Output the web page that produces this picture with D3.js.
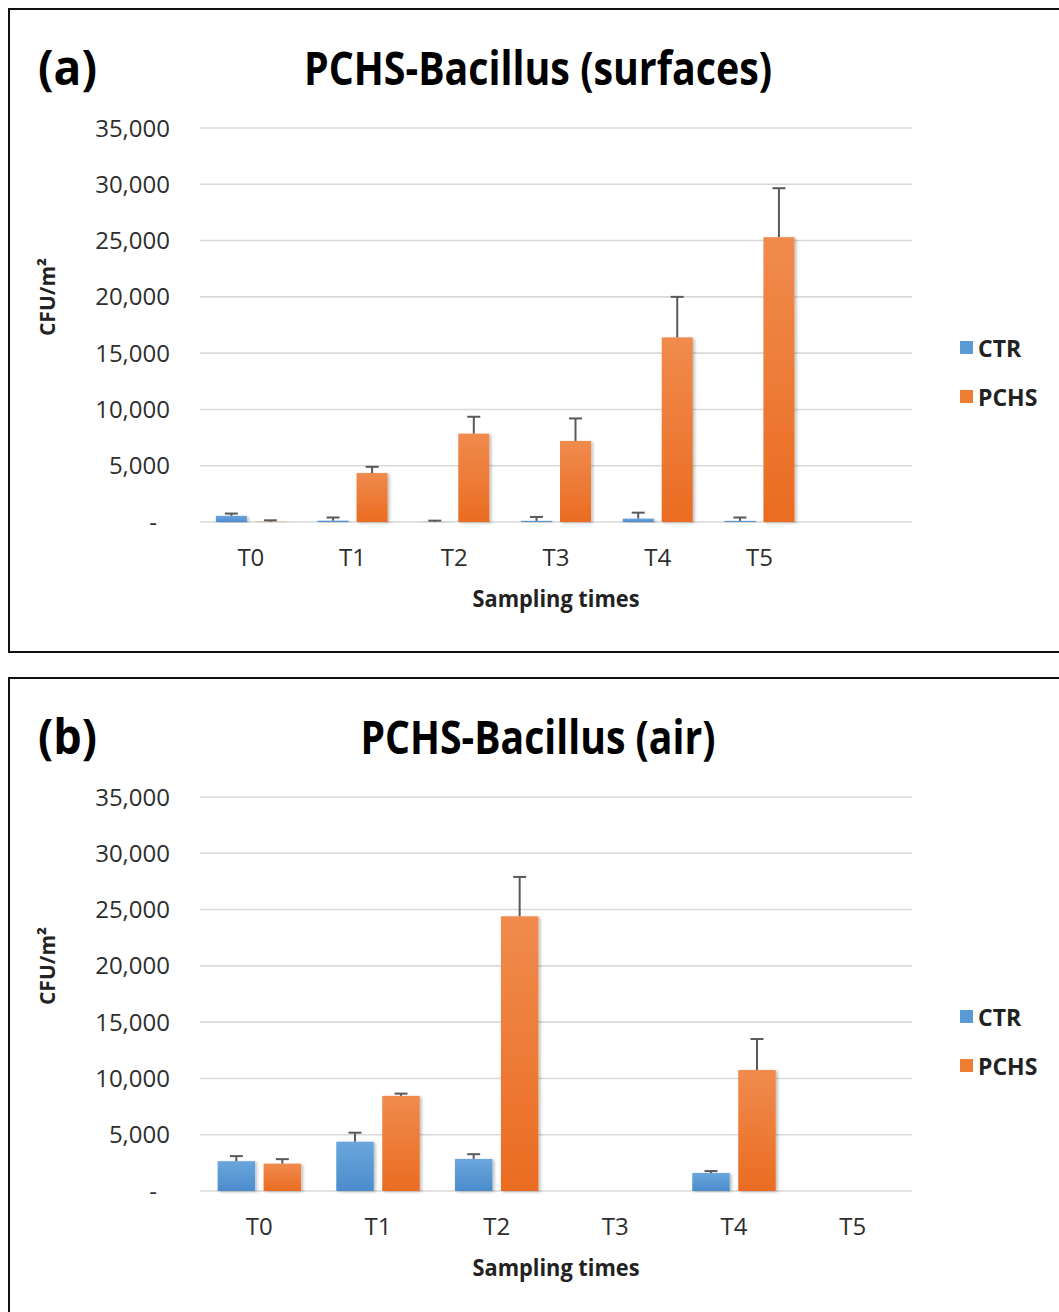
<!DOCTYPE html>
<html><head><meta charset="utf-8">
<script src="https://cdn.jsdelivr.net/npm/d3@7/dist/d3.min.js"></script>
<style>body{margin:0;background:#fff} svg{display:block}</style>
</head><body><svg id="c" width="1059" height="1312"></svg>
<script>
// ---- data ----
const seriesNames = ["CTR", "PCHS"];
const yTickValues = [0, 5000, 10000, 15000, 20000, 25000, 30000, 35000];

// (a) surfaces — the Excel chart has a 7th, empty category slot
const categoriesA = ["T0", "T1", "T2", "T3", "T4", "T5", ""];
const ctrA      = [550, 120, 20, 100, 300, 100, null];
const ctrErrA   = [200, 280, 100, 350, 530, 300, null];
const pchsA     = [30, 4350, 7850, 7200, 16400, 25300, null];
const pchsErrA  = [120, 550, 1500, 2000, 3600, 4350, null];

// (b) air
const categoriesB = ["T0", "T1", "T2", "T3", "T4", "T5"];
const ctrB      = [2650, 4380, 2850, null, 1600, null];
const ctrErrB   = [450, 800, 420, null, 170, null];
const pchsB     = [2430, 8450, 24400, null, 10750, null];
const pchsErrB  = [400, 200, 3500, null, 2750, null];

const panelLabels = ["(a)", "(b)"];
const panelTitles = ["PCHS-Bacillus (surfaces)", "PCHS-Bacillus (air)"];
const xAxisTitle = "Sampling times";
const yAxisTitle = "CFU/m²";

// ---- drawing ----
const FONT = "'Open Sans', 'Noto Sans', sans-serif";
const svg = d3.select("#c");
const defs = svg.append("defs");
function grad(id, top, bot) {
  const g = defs.append("linearGradient").attr("id", id).attr("x1", 0).attr("y1", 0).attr("x2", 0).attr("y2", 1);
  g.append("stop").attr("offset", "0%").attr("stop-color", top);
  g.append("stop").attr("offset", "100%").attr("stop-color", bot);
}
grad("gCTR", "#6ba6dd", "#4b8ccc");
grad("gPCHS", "#f08b4d", "#ea6c22");
const f = defs.append("filter").attr("id", "sh").attr("x", "-20%").attr("y", "-5%").attr("width", "150%").attr("height", "115%");
f.append("feDropShadow").attr("dx", 2).attr("dy", 1).attr("stdDeviation", 1.5).attr("flood-color", "#000").attr("flood-opacity", 0.25);
const color = d3.scaleOrdinal().domain(seriesNames).range(["url(#gCTR)", "url(#gPCHS)"]);
const legendColor = d3.scaleOrdinal().domain(seriesNames).range(["#5b9bd5", "#ed7d31"]);

function drawPanel(dy, label, title, titleW, cats, values, errs, innerPad, outerPad) {
  const g = svg.append("g").attr("transform", `translate(0,${dy})`);
  g.append("rect").attr("x", 9).attr("y", 9).attr("width", 1080).attr("height", 643)
    .attr("fill", "none").attr("stroke", "#111").attr("stroke-width", 2);

  const y = d3.scaleLinear().domain([0, 35000]).range([522, 128]);
  const x0 = d3.scaleBand().domain(cats).range([200, 912]).padding(0);
  const x1 = d3.scaleBand().domain(seriesNames).range([0, x0.bandwidth()])
    .paddingInner(innerPad).paddingOuter(outerPad);

  // gridlines
  g.append("g").selectAll("line").data(yTickValues).join("line")
    .attr("x1", 200).attr("x2", 912).attr("y1", d => y(d)).attr("y2", d => y(d))
    .attr("stroke", "#d9d9d9").attr("stroke-width", 1.6);

  // y tick labels
  const fmt = d3.format(",");
  g.append("g").selectAll("text").data(yTickValues).join("text")
    .attr("x", d => d === 0 ? 157 : 170).attr("y", d => y(d) + 8.5)
    .attr("text-anchor", "end").attr("font-family", FONT).attr("font-size", 24).attr("fill", "#2e2e2e")
    .text(d => d === 0 ? "-" : fmt(d));

  // bars
  const rows = [];
  cats.forEach((c, i) => {
    seriesNames.forEach((s, k) => {
      const v = values[k][i];
      if (v !== null) rows.push({ c, s, v, e: errs[k][i] });
    });
  });
  const bars = g.append("g");
  bars.selectAll("rect").data(rows).join("rect")
    .attr("x", d => x0(d.c) + x1(d.s)).attr("width", x1.bandwidth())
    .attr("y", d => y(d.v)).attr("height", d => y(0) - y(d.v))
    .attr("fill", d => color(d.s)).attr("filter", "url(#sh)");

  // error bars (positive only)
  const eb = g.append("g").attr("stroke", "#595959").attr("stroke-width", 2);
  eb.selectAll("line.v").data(rows).join("line").attr("class", "v")
    .attr("x1", d => x0(d.c) + x1(d.s) + x1.bandwidth() / 2).attr("x2", d => x0(d.c) + x1(d.s) + x1.bandwidth() / 2)
    .attr("y1", d => y(d.v)).attr("y2", d => y(d.v + d.e));
  eb.selectAll("line.c").data(rows).join("line").attr("class", "c")
    .attr("x1", d => x0(d.c) + x1(d.s) + x1.bandwidth() / 2 - 6.5).attr("x2", d => x0(d.c) + x1(d.s) + x1.bandwidth() / 2 + 6.5)
    .attr("y1", d => y(d.v + d.e)).attr("y2", d => y(d.v + d.e));

  // x labels
  g.append("g").selectAll("text").data(cats.filter(c => c !== "")).join("text")
    .attr("x", d => x0(d) + x0.bandwidth() / 2).attr("y", 566)
    .attr("text-anchor", "middle").attr("font-family", FONT).attr("font-size", 24).attr("fill", "#2e2e2e")
    .text(d => d);

  // axis titles
  g.append("text").attr("x", 556).attr("y", 607).attr("text-anchor", "middle")
    .attr("font-family", FONT).attr("font-weight", "bold").attr("font-size", 24).attr("fill", "#222")
    .attr("textLength", 167).attr("lengthAdjust", "spacingAndGlyphs").text(xAxisTitle);
  g.append("text").attr("transform", "translate(55,297) rotate(-90)").attr("text-anchor", "middle")
    .attr("font-family", FONT).attr("font-weight", "bold").attr("font-size", 21).attr("fill", "#222")
    .text(yAxisTitle);

  // titles
  g.append("text").attr("x", 38).attr("y", 85).attr("font-family", FONT).attr("font-weight", "bold")
    .attr("font-size", 48).attr("fill", "#000").attr("textLength", 59).attr("lengthAdjust", "spacingAndGlyphs").text(label);
  g.append("text").attr("x", 538).attr("y", 85).attr("text-anchor", "middle").attr("font-family", FONT)
    .attr("font-weight", "bold").attr("font-size", 47).attr("fill", "#000")
    .attr("textLength", titleW).attr("lengthAdjust", "spacingAndGlyphs").text(title);

  // legend
  const lg = g.append("g").selectAll("g").data(seriesNames).join("g")
    .attr("transform", (d, i) => `translate(960,${348 + i * 49})`);
  lg.append("rect").attr("x", 0).attr("y", -7).attr("width", 13).attr("height", 13).attr("fill", d => legendColor(d));
  lg.append("text").attr("x", 18).attr("y", 8.5).attr("font-family", FONT).attr("font-weight", "bold")
    .attr("font-size", 23).attr("fill", "#222").text(d => d);
}

drawPanel(0, panelLabels[0], panelTitles[0], 468, categoriesA, [ctrA, pchsA], [ctrErrA, pchsErrA], 0.205, 0.406);
drawPanel(669, panelLabels[1], panelTitles[1], 355, categoriesB, [ctrB, pchsB], [ctrErrB, pchsErrB], 0.185, 0.383);
</script></body></html>
